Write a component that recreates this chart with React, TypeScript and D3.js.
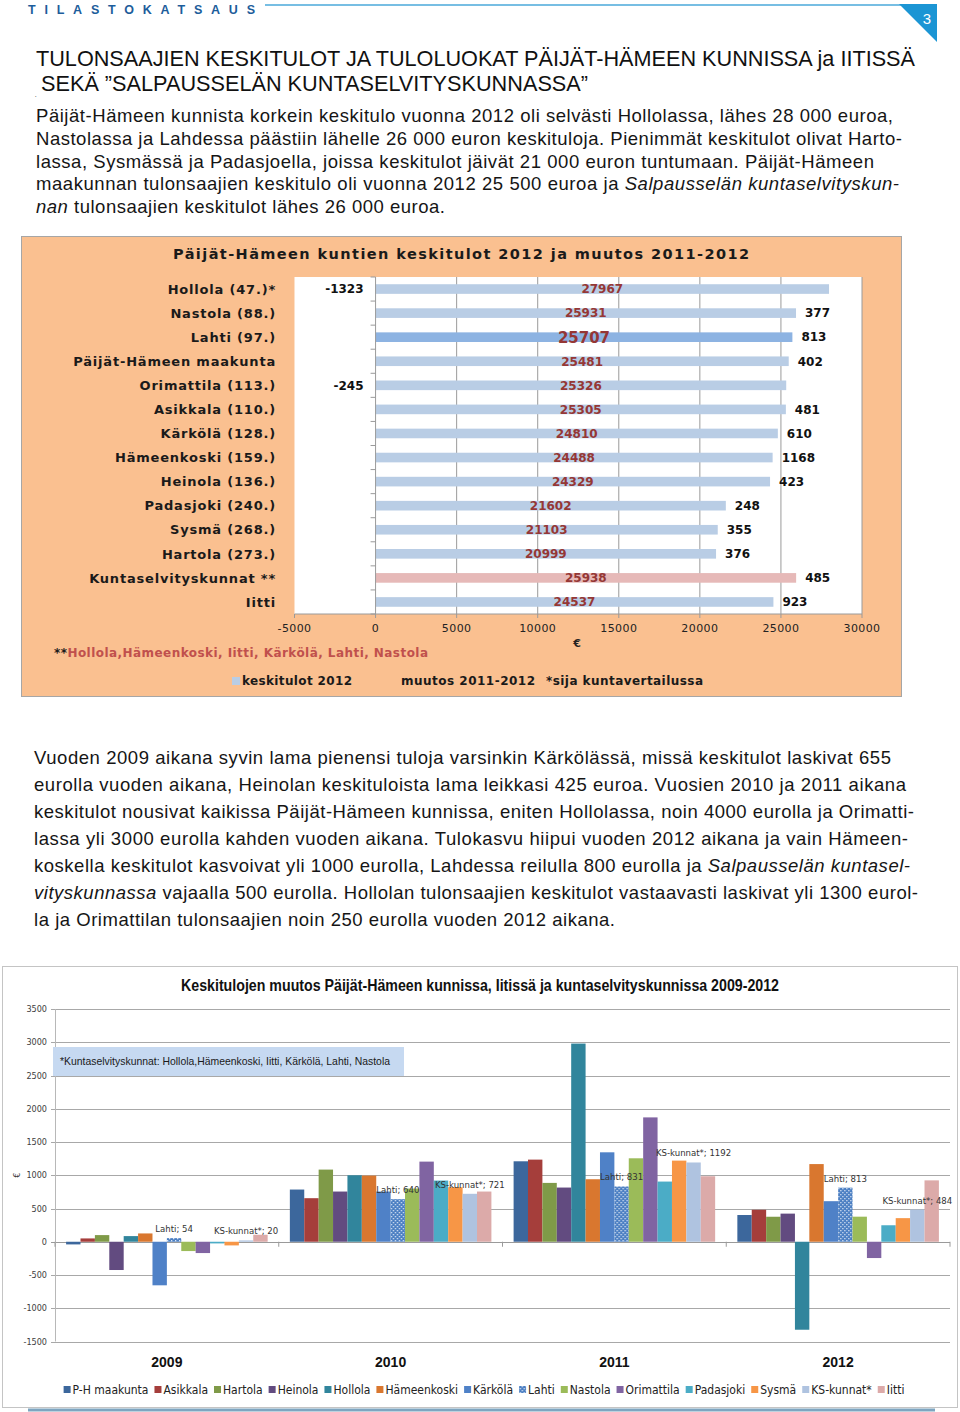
import React, { useEffect, useRef } from "react";
import * as d3 from "d3";

// ---------- Chart 1 data ----------
const categories1 = [
  "Hollola (47.)*",
  "Nastola (88.)",
  "Lahti  (97.)",
  "Päijät-Hämeen maakunta",
  "Orimattila (113.)",
  "Asikkala  (110.)",
  "Kärkölä  (128.)",
  "Hämeenkoski (159.)",
  "Heinola (136.)",
  "Padasjoki  (240.)",
  "Sysmä (268.)",
  "Hartola (273.)",
  "Kuntaselvityskunnat **",
  "Iitti",
];
const income2012 = [27967, 25931, 25707, 25481, 25326, 25305, 24810, 24488, 24329, 21602, 21103, 20999, 25938, 24537];
const change2011to2012 = [-1323, 377, 813, 402, -245, 481, 610, 1168, 423, 248, 355, 376, 485, 923];
const incomeTicks = [-5000, 0, 5000, 10000, 15000, 20000, 25000, 30000];

// ---------- Chart 2 data ----------
const years = ["2009", "2010", "2011", "2012"];
const seriesNames = [
  "P-H maakunta", "Asikkala", "Hartola", "Heinola", "Hollola", "Hämeenkoski", "Kärkölä",
  "Lahti", "Nastola", "Orimattila", "Padasjoki", "Sysmä", "KS-kunnat*", "Iitti",
];
const phMaakunta = [-40, 785, 1210, 402];
const asikkala = [50, 655, 1235, 481];
const hartola = [100, 1085, 885, 376];
const heinola = [-425, 755, 815, 423];
const hollola = [85, 1000, 2980, -1323];
const hameenkoski = [125, 995, 940, 1168];
const karkola = [-655, 755, 1345, 610];
const lahti = [54, 640, 831, 813];
const nastola = [-140, 800, 1255, 377];
const orimattila = [-170, 1205, 1870, -245];
const padasjoki = [-25, 920, 905, 248];
const sysma = [-55, 820, 1220, 355];
const ksKunnat = [20, 721, 1192, 484];
const iitti = [105, 755, 985, 923];
const seriesValues = [phMaakunta, asikkala, hartola, heinola, hollola, hameenkoski, karkola, lahti, nastola, orimattila, padasjoki, sysma, ksKunnat, iitti];
const labelledSeries = ["Lahti", "KS-kunnat*"];
const changeTicks = [3500, 3000, 2500, 2000, 1500, 1000, 500, 0, -500, -1000, -1500];

const seriesColors = [
  "#3c679c", "#a53e3b", "#7f9a48", "#624b80", "#31859c", "#d9772f", "#4f81c7",
  "url(#lahtiPattern)", "#9bbb59", "#8064a2", "#4bacc6", "#f79646", "#afc3e0", "#dcaaa9",
];

// ---------- Text ----------
type Seg = { t: string; i?: boolean };
const para1: Seg[][] = [
  [{ t: "Päijät-Hämeen kunnista korkein keskitulo vuonna 2012 oli selvästi Hollolassa, lähes 28 000 euroa," }],
  [{ t: "Nastolassa ja Lahdessa päästiin lähelle 26 000 euron keskituloja. Pienimmät keskitulot olivat Harto-" }],
  [{ t: "lassa, Sysmässä ja Padasjoella, joissa keskitulot jäivät 21 000 euron tuntumaan. Päijät-Hämeen" }],
  [{ t: "maakunnan tulonsaajien keskitulo oli vuonna 2012 25 500 euroa ja " }, { t: "Salpausselän kuntaselvityskun-", i: true }],
  [{ t: "nan", i: true }, { t: " tulonsaajien keskitulot lähes 26 000 euroa." }],
];
const para1Right = [893, 902, 874, 899, 445];
const para2: Seg[][] = [
  [{ t: "Vuoden 2009 aikana syvin lama pienensi tuloja varsinkin Kärkölässä, missä keskitulot laskivat 655" }],
  [{ t: "eurolla vuoden aikana, Heinolan keskituloista lama leikkasi 425 euroa. Vuosien 2010 ja 2011 aikana" }],
  [{ t: "keskitulot nousivat kaikissa Päijät-Hämeen kunnissa, eniten Hollolassa, noin 4000 eurolla ja Orimatti-" }],
  [{ t: "lassa yli 3000 eurolla kahden vuoden aikana. Tulokasvu hiipui vuoden 2012 aikana ja vain Hämeen-" }],
  [{ t: "koskella keskitulot kasvoivat yli 1000 eurolla, Lahdessa reilulla 800 eurolla ja " }, { t: "Salpausselän kuntasel-", i: true }],
  [{ t: "vityskunnassa", i: true }, { t: " vajaalla 500 eurolla. Hollolan tulonsaajien keskitulot vastaavasti laskivat yli 1300 eurol-" }],
  [{ t: "la ja Orimattilan tulonsaajien noin 250 eurolla vuoden 2012 aikana." }],
];
const para2Right = [891, 906, 914, 908, 910, 918, 615];

const BODY = "'Liberation Sans', Arial, sans-serif";
const COND = "'DejaVu Sans Condensed', 'Liberation Sans', sans-serif";
const VERD = "'DejaVu Sans', Verdana, sans-serif";

function fit(sel: any, target: number, glyphs = false) {
  const n = sel.node() as SVGTextElement;
  const len = n.getComputedTextLength();
  if (Math.abs(len - target) > 1)
    sel.attr("textLength", target).attr("lengthAdjust", glyphs ? "spacingAndGlyphs" : "spacing");
}

export default function App() {
  const ref = useRef<SVGSVGElement>(null);

  useEffect(() => {
    const svg = d3.select(ref.current);
    svg.selectAll("*").remove();

    const defs = svg.append("defs");
    const pat = defs.append("pattern").attr("id", "lahtiPattern").attr("patternUnits", "userSpaceOnUse")
      .attr("width", 4).attr("height", 4);
    pat.append("rect").attr("width", 4).attr("height", 4).attr("fill", "#4a7ec2");
    pat.append("rect").attr("x", 0).attr("y", 0).attr("width", 1.3).attr("height", 1.3).attr("fill", "#dbe6f5");
    pat.append("rect").attr("x", 2).attr("y", 2).attr("width", 1.3).attr("height", 1.3).attr("fill", "#dbe6f5");

    // ---------- Header ----------
    const hdr = svg.append("text").attr("x", 28).attr("y", 14).attr("font-family", BODY)
      .attr("font-weight", "bold").attr("font-size", 12.5).attr("fill", "#1d5d9b").text("TILASTOKATSAUS");
    hdr.attr("textLength", 227).attr("lengthAdjust", "spacing");
    svg.append("line").attr("x1", 265).attr("x2", 905).attr("y1", 5).attr("y2", 5)
      .attr("stroke", "#4aa8da").attr("stroke-width", 1.5);
    svg.append("polygon").attr("points", "899,4 937,4 937,42").attr("fill", "#1b95d4");
    svg.append("text").attr("x", 927).attr("y", 24).attr("font-family", BODY).attr("font-size", 15)
      .attr("fill", "#fff").attr("text-anchor", "middle").text("3");

    // ---------- Title ----------
    const t1 = svg.append("text").attr("x", 36).attr("y", 66).attr("font-family", BODY)
      .attr("font-size", 22).attr("fill", "#111").text("TULONSAAJIEN KESKITULOT JA TULOLUOKAT PÄIJÄT-HÄMEEN KUNNISSA ja IITISSÄ");
    fit(t1, 879, true);
    const t2 = svg.append("text").attr("x", 41).attr("y", 91).attr("font-family", BODY)
      .attr("font-size", 22).attr("fill", "#111").text("SEKÄ ”SALPAUSSELÄN KUNTASELVITYSKUNNASSA”");
    fit(t2, 547, true);
    svg.append("text").attr("x", 35).attr("y", 97).attr("font-size", 6).attr("fill", "#111").text(".");

    // ---------- Paragraphs ----------
    const drawPara = (lines: Seg[][], rights: number[], x: number, y0: number, step: number) => {
      lines.forEach((segs, li) => {
        const tx = svg.append("text").attr("x", x).attr("y", y0 + li * step).attr("font-family", BODY)
          .attr("font-size", 18.5).attr("fill", "#151515");
        segs.forEach((s) => {
          tx.append("tspan").attr("font-style", s.i ? "italic" : "normal").text(s.t);
        });
        fit(tx, rights[li] - x);
      });
    };
    drawPara(para1, para1Right, 36, 122, 22.75);
    drawPara(para2, para2Right, 34, 764, 27);

    // ---------- Chart 1 ----------
    const c1 = svg.append("g");
    c1.append("rect").attr("x", 21.5).attr("y", 236.5).attr("width", 880).attr("height", 460)
      .attr("fill", "#fac090").attr("stroke", "#a6a6a6");
    const x1 = d3.scaleLinear().domain([-5000, 30000]).range([294.5, 862]);
    const yb = d3.scaleBand<string>().domain(categories1).range([277, 614]).paddingInner(0.6).paddingOuter(0.3);
    const step = yb.step();
    c1.append("rect").attr("x", x1(-5000)).attr("y", 277).attr("width", x1(30000) - x1(-5000)).attr("height", 337)
      .attr("fill", "#fff");
    c1.selectAll("line.grid").data(incomeTicks.filter((d) => d > 0)).join("line")
      .attr("x1", (d) => x1(d)).attr("x2", (d) => x1(d)).attr("y1", 277).attr("y2", 614)
      .attr("stroke", "#9a9a9a").attr("stroke-width", 1);
    c1.append("line").attr("x1", x1(-5000)).attr("x2", x1(30000)).attr("y1", 614).attr("y2", 614)
      .attr("stroke", "#9a9a9a");
    c1.selectAll("line.xt").data(incomeTicks).join("line")
      .attr("x1", (d) => x1(d)).attr("x2", (d) => x1(d)).attr("y1", 614).attr("y2", 618).attr("stroke", "#9a9a9a");
    c1.selectAll("text.xt").data(incomeTicks).join("text")
      .attr("x", (d) => x1(d)).attr("y", 632).attr("text-anchor", "middle").attr("font-family", VERD)
      .attr("font-size", 11).attr("letter-spacing", 0.4).attr("fill", "#222").text((d) => String(d));
    c1.append("text").attr("x", 577).attr("y", 647).attr("text-anchor", "middle").attr("font-family", VERD)
      .attr("font-weight", "bold").attr("font-size", 11).attr("fill", "#222").text("€");

    const barColor = (c: string) =>
      c.startsWith("Lahti") ? "#8db3e2" : c.startsWith("Kuntaselv") ? "#e6b9b8" : "#b9cde5";
    c1.selectAll("rect.bar").data(categories1).join("rect")
      .attr("x", x1(0)).attr("y", (d) => yb(d)!)
      .attr("width", (d, i) => x1(income2012[i]) - x1(0)).attr("height", yb.bandwidth())
      .attr("fill", (d) => barColor(d));
    c1.append("line").attr("x1", x1(0)).attr("x2", x1(0)).attr("y1", 277).attr("y2", 614).attr("stroke", "#9a9a9a");
    c1.selectAll("line.yt").data(d3.range(categories1.length + 1)).join("line")
      .attr("x1", x1(0) - 5).attr("x2", x1(0)).attr("y1", (k) => 277 + k * step).attr("y2", (k) => 277 + k * step)
      .attr("stroke", "#9a9a9a");
    c1.selectAll("text.cat").data(categories1).join("text")
      .attr("x", 276).attr("y", (d) => yb(d)! + yb.bandwidth() / 2).attr("dy", "0.36em")
      .attr("text-anchor", "end").attr("font-family", VERD).attr("font-weight", "bold")
      .attr("font-size", 13).attr("letter-spacing", 0.8).attr("fill", "#1a1a1a").text((d) => d);
    c1.selectAll("text.inc").data(categories1).join("text")
      .attr("x", (d, i) => (x1(0) + x1(income2012[i])) / 2).attr("y", (d) => yb(d)! + yb.bandwidth() / 2)
      .attr("dy", "0.36em").attr("text-anchor", "middle").attr("font-family", VERD).attr("font-weight", "bold")
      .attr("font-size", (d) => (d.startsWith("Lahti") ? 15 : 12)).attr("fill", "#953735")
      .text((d, i) => String(income2012[i]));
    c1.selectAll("text.chg").data(categories1).join("text")
      .attr("x", (d, i) => (change2011to2012[i] < 0 ? x1(0) - 12 : x1(income2012[i]) + 9))
      .attr("y", (d) => yb(d)! + yb.bandwidth() / 2).attr("dy", "0.36em")
      .attr("text-anchor", (d, i) => (change2011to2012[i] < 0 ? "end" : "start"))
      .attr("font-family", VERD).attr("font-weight", "bold").attr("font-size", 12).attr("fill", "#111")
      .text((d, i) => String(change2011to2012[i]));
    const ct1 = c1.append("text").attr("x", 173).attr("y", 259).attr("font-family", VERD).attr("font-weight", "bold")
      .attr("font-size", 14.5).attr("fill", "#1a1a1a").text("Päijät-Hämeen  kuntien keskitulot 2012 ja muutos 2011-2012");
    fit(ct1, 576);
    const fn = c1.append("text").attr("x", 54).attr("y", 657).attr("font-family", VERD).attr("font-weight", "bold")
      .attr("font-size", 12);
    fn.append("tspan").attr("fill", "#1a1a1a").text("**");
    fn.append("tspan").attr("fill", "#c0504d").text("Hollola,Hämeenkoski, Iitti, Kärkölä, Lahti, Nastola");
    fit(fn, 374);
    c1.append("rect").attr("x", 232).attr("y", 677).attr("width", 8).attr("height", 8).attr("fill", "#b9cde5");
    const lg = [
      { x: 242, t: "keskitulot 2012", w: 110 },
      { x: 401, t: "muutos 2011-2012", w: 134 },
      { x: 546, t: "*sija kuntavertailussa", w: 157 },
    ];
    lg.forEach((l) => {
      const tt = c1.append("text").attr("x", l.x).attr("y", 685).attr("font-family", VERD).attr("font-weight", "bold")
        .attr("font-size", 12).attr("fill", "#1a1a1a").text(l.t);
      fit(tt, l.w);
    });

    // ---------- Chart 2 ----------
    const c2 = svg.append("g");
    c2.append("rect").attr("x", 2.5).attr("y", 966.5).attr("width", 955).attr("height", 441)
      .attr("fill", "#fff").attr("stroke", "#c4c4c4");
    c2.append("line").attr("x1", 28).attr("x2", 935).attr("y1", 1410).attr("y2", 1410)
      .attr("stroke", "#7ea5c0").attr("stroke-width", 3);

    const x0 = d3.scaleBand<string>().domain(years).range([55, 950]);
    const gap = 11.1;
    const xs = d3.scaleBand<string>().domain(seriesNames).range([gap, x0.bandwidth() - gap]);
    const y2 = d3.scaleLinear().domain([-1500, 3500]).range([1341.5, 1009]);

    c2.selectAll("line.g2").data(changeTicks).join("line")
      .attr("x1", 51).attr("x2", 950).attr("y1", (d) => Math.round(y2(d)) + 0.5).attr("y2", (d) => Math.round(y2(d)) + 0.5)
      .attr("stroke", (d) => (d === 0 ? "#9a9a9a" : "#a8a8a8")).attr("stroke-width", 1);
    c2.append("line").attr("x1", 55.5).attr("x2", 55.5).attr("y1", y2(3500)).attr("y2", y2(-1500)).attr("stroke", "#b8b8b8");
    c2.selectAll("text.yl").data(changeTicks).join("text")
      .attr("x", 47).attr("y", (d) => y2(d)).attr("dy", "0.35em").attr("text-anchor", "end")
      .attr("font-family", COND).attr("font-size", 9).attr("fill", "#404040").text((d) => String(d));
    c2.append("text").attr("transform", `translate(20,${y2(1000)}) rotate(-90)`).attr("text-anchor", "middle")
      .attr("font-family", COND).attr("font-size", 9).attr("fill", "#404040").text("€");

    years.forEach((yr, j) => {
      const g = c2.append("g").attr("transform", `translate(${x0(yr)},0)`);
      g.selectAll("rect").data(seriesNames).join("rect")
        .attr("x", (s) => xs(s)!).attr("width", xs.bandwidth())
        .attr("y", (s, i) => y2(Math.max(0, seriesValues[i][j])))
        .attr("height", (s, i) => Math.abs(y2(seriesValues[i][j]) - y2(0)))
        .attr("fill", (s, i) => seriesColors[i]);
      g.selectAll("text").data(seriesNames.filter((s) => labelledSeries.includes(s))).join("text")
        .attr("x", (s) => xs(s)! + xs.bandwidth() / 2)
        .attr("y", (s) => y2(Math.max(0, seriesValues[seriesNames.indexOf(s)][j])) - 6)
        .attr("text-anchor", "middle").attr("font-family", COND).attr("font-size", 9.5).attr("fill", "#333")
        .text((s) => `${s}; ${seriesValues[seriesNames.indexOf(s)][j]}`);
    });
    const bounds = [55, ...years.map((y) => x0(y)! + x0.bandwidth())];
    c2.selectAll("line.ct").data(bounds).join("line")
      .attr("x1", (d) => d).attr("x2", (d) => d).attr("y1", y2(0)).attr("y2", y2(0) + 5).attr("stroke", "#9a9a9a");
    c2.selectAll("text.yr").data(years).join("text")
      .attr("x", (d) => x0(d)! + x0.bandwidth() / 2).attr("y", 1367).attr("text-anchor", "middle")
      .attr("font-family", BODY).attr("font-weight", "bold").attr("font-size", 14).attr("fill", "#111").text((d) => d);

    const ct2 = c2.append("text").attr("x", 181).attr("y", 991).attr("font-family", BODY).attr("font-weight", "bold")
      .attr("font-size", 16.5).attr("fill", "#111")
      .text("Keskitulojen muutos Päijät-Hämeen kunnissa, Iitissä ja kuntaselvityskunnissa 2009-2012");
    fit(ct2, 598, true);
    c2.append("rect").attr("x", 53).attr("y", 1047).attr("width", 351).attr("height", 29).attr("fill", "#c6d9f1");
    const an = c2.append("text").attr("x", 60).attr("y", 1065).attr("font-family", BODY).attr("font-size", 11.5)
      .attr("fill", "#1a1a1a").text("*Kuntaselvityskunnat: Hollola,Hämeenkoski, Iitti, Kärkölä, Lahti, Nastola");
    fit(an, 330, true);

    const lgG = c2.append("g");
    let cx = 0;
    seriesNames.forEach((s, i) => {
      lgG.append("rect").attr("x", cx).attr("y", 1386).attr("width", 7).attr("height", 7).attr("fill", seriesColors[i]);
      const tt = lgG.append("text").attr("x", cx + 9).attr("y", 1394).attr("font-family", COND)
        .attr("font-size", 12).attr("fill", "#222").text(s);
      const w = (tt.node() as SVGTextElement).getComputedTextLength();
      cx += 9 + w + 6;
    });
    const totalW = cx - 6;
    lgG.attr("transform", `translate(${(58 + 910) / 2 - totalW / 2},0)`);
  }, []);

  return (
    <svg
      ref={ref}
      width={960}
      height={1412}
      style={{ position: "absolute", left: 0, top: 0, display: "block", background: "#fff" }}
    />
  );
}
